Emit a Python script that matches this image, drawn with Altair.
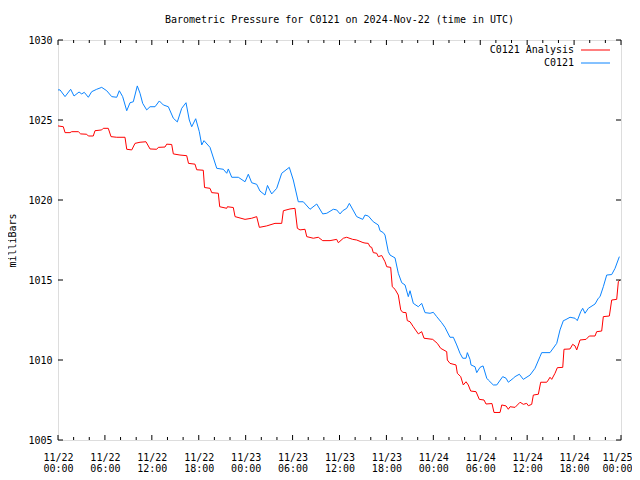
import altair as alt
import pandas as pd

TITLE = "Barometric Pressure for C0121 on 2024-Nov-22 (time in UTC)"
Y_TITLE = "milliBars"
SERIES = ["C0121 Analysis", "C0121"]
COLORS = ["#ff0000", "#0a84ff"]
FONT = "DejaVu Sans Mono"

# hours since 2024-11-22 00:00 UTC, pressure in mb
obs_hours = [0.0, 0.26, 0.90, 1.62, 2.05, 2.69, 3.03, 3.36, 3.88, 4.31,
             4.95, 5.59, 6.23, 6.87, 7.51, 7.84, 8.27, 8.79, 9.21, 9.63,
             10.14, 10.49, 10.83, 11.34, 11.77, 12.41, 12.96, 13.47, 14.11, 14.75,
             15.26, 15.82, 16.37, 16.79, 17.10, 17.61, 18.07, 18.38, 18.67, 19.44,
             20.30, 21.14, 21.58, 21.78, 22.22, 23.06, 23.92, 24.34, 24.77, 25.41,
             25.83, 26.47, 26.79, 27.11, 27.33, 27.97, 28.61, 29.58, 30.09, 30.73,
             31.37, 32.23, 33.09, 33.85, 34.37, 35.21, 35.64, 36.07, 36.41, 36.92,
             37.26, 38.20, 38.97, 39.26, 39.69, 40.32, 40.96, 41.18, 41.60, 41.82,
             42.24, 42.46, 43.10, 43.52, 43.96, 44.38, 44.80, 45.02, 45.44, 46.08,
             46.51, 46.94, 47.58, 48.00, 48.43, 49.07, 49.49, 50.13, 50.56, 50.99,
             51.41, 51.76, 52.18, 52.35, 52.69, 52.82, 53.33, 53.55, 53.97, 54.36,
             54.83, 55.03, 55.67, 56.11, 56.87, 57.30, 57.59, 58.23, 58.45, 59.00,
             59.51, 60.37, 61.00, 61.64, 61.86, 62.92, 63.78, 64.20, 64.63, 64.84,
             65.48, 66.12, 66.41, 66.85, 67.10, 67.40, 67.82, 68.68, 69.10, 69.32,
             69.74, 70.17, 70.81, 71.24, 71.79]
obs_mb = [1026.88, 1026.88, 1026.46, 1026.92, 1026.50, 1026.75, 1026.63, 1026.73, 1026.42, 1026.77,
          1026.92, 1027.04, 1026.83, 1026.46, 1026.42, 1026.83, 1026.46, 1025.58, 1026.08, 1026.14,
          1027.13, 1026.67, 1026.04, 1025.63, 1025.83, 1025.83, 1026.19, 1025.94, 1025.83, 1025.11,
          1024.88, 1025.73, 1026.08, 1025.00, 1024.58, 1025.08, 1024.27, 1023.44, 1023.71, 1023.29,
          1021.98, 1021.92, 1021.67, 1021.94, 1021.42, 1021.42, 1021.14, 1021.61, 1021.08, 1020.98,
          1020.56, 1020.31, 1020.91, 1020.58, 1020.38, 1020.73, 1021.67, 1022.04, 1021.25, 1019.89,
          1019.89, 1019.42, 1019.75, 1019.13, 1019.17, 1019.42, 1019.38, 1019.13, 1019.33, 1019.48,
          1019.79, 1018.96, 1018.79, 1019.06, 1019.00, 1018.64, 1018.44, 1018.08, 1017.96, 1017.81,
          1016.77, 1016.56, 1016.38, 1015.42, 1014.83, 1014.69, 1013.96, 1014.33, 1013.54, 1013.33,
          1013.54, 1012.96, 1012.92, 1012.98, 1012.71, 1012.33, 1012.04, 1011.42, 1011.42, 1010.94,
          1010.42, 1010.11, 1010.11, 1010.46, 1010.04, 1009.69, 1009.58, 1009.21, 1009.54, 1009.63,
          1008.86, 1008.75, 1008.44, 1008.44, 1008.96, 1008.86, 1008.61, 1008.86, 1008.96, 1009.11,
          1008.79, 1009.06, 1009.48, 1010.21, 1010.46, 1010.46, 1011.04, 1011.88, 1012.46, 1012.50,
          1012.67, 1012.61, 1012.46, 1013.02, 1013.23, 1012.92, 1013.23, 1013.50, 1013.86, 1013.96,
          1014.58, 1015.31, 1015.34, 1015.73, 1016.46]

ana_hours = [0.00, 0.68, 0.90, 1.53, 1.75, 2.60, 2.90, 3.67, 3.88, 4.51,
             4.73, 5.59, 5.79, 6.43, 6.78, 7.51, 8.57, 8.79, 9.43, 9.85,
             10.49, 11.25, 11.77, 12.62, 12.83, 13.68, 13.90, 14.54, 14.75, 15.60,
             16.46, 16.69, 17.52, 17.74, 18.58, 18.74, 19.44, 19.66, 20.50, 20.68,
             21.58, 21.66, 22.42, 22.64, 23.92, 24.77, 25.41, 25.75, 26.69, 27.75,
             28.61, 28.82, 29.67, 30.31, 30.61, 30.95, 31.59, 31.81, 32.65, 33.29,
             33.85, 34.79, 35.64, 35.85, 36.49, 36.92, 37.69, 38.20, 39.00, 39.26,
             39.68, 39.90, 40.12, 40.32, 40.76, 40.96, 41.40, 41.82, 42.04, 42.55,
             42.75, 43.10, 43.52, 43.83, 44.08, 44.51, 44.67, 45.02, 45.44, 46.08,
             46.51, 46.81, 47.92, 48.51, 48.94, 49.71, 49.79, 50.13, 50.90, 51.07,
             51.50, 51.83, 52.18, 52.47, 52.78, 53.46, 53.88, 54.48, 54.74, 55.50,
             55.76, 56.53, 56.75, 57.30, 57.59, 57.81, 58.45, 59.09, 59.51, 59.94,
             60.15, 60.58, 60.79, 61.43, 61.73, 62.50, 62.71, 62.92, 63.14, 63.56,
             63.86, 64.55, 64.71, 65.48, 65.82, 66.12, 66.34, 66.76, 67.53, 67.95,
             68.68, 68.89, 69.53, 69.74, 70.51, 70.81, 71.45, 71.66, 71.87]
ana_mb = [1024.63, 1024.58, 1024.21, 1024.21, 1024.27, 1024.27, 1024.13, 1024.11, 1024.00, 1024.00,
          1024.33, 1024.38, 1024.48, 1024.48, 1023.96, 1023.92, 1023.92, 1023.17, 1023.13, 1023.54,
          1023.61, 1023.64, 1023.19, 1023.17, 1023.29, 1023.31, 1023.49, 1023.47, 1022.88, 1022.81,
          1022.77, 1022.29, 1022.24, 1021.89, 1021.86, 1020.78, 1020.73, 1020.46, 1020.42, 1019.58,
          1019.48, 1019.58, 1019.53, 1018.96, 1018.79, 1018.86, 1018.96, 1018.29, 1018.38, 1018.54,
          1018.54, 1019.33, 1019.44, 1019.48, 1018.23, 1018.13, 1018.17, 1017.71, 1017.61, 1017.67,
          1017.46, 1017.46, 1017.54, 1017.33, 1017.61, 1017.67, 1017.54, 1017.50, 1017.34, 1017.31,
          1017.29, 1017.08, 1017.04, 1016.71, 1016.67, 1016.46, 1016.53, 1016.14, 1015.83, 1015.79,
          1014.58, 1014.42, 1014.06, 1013.13, 1012.98, 1012.96, 1012.46, 1012.39, 1012.08, 1011.63,
          1011.77, 1011.36, 1011.29, 1011.04, 1010.73, 1010.52, 1010.00, 1009.79, 1009.69, 1009.17,
          1008.96, 1008.44, 1008.64, 1008.44, 1008.06, 1008.02, 1007.54, 1007.50, 1007.25, 1007.28,
          1006.72, 1006.72, 1007.19, 1007.13, 1006.92, 1007.08, 1007.04, 1007.36, 1007.23, 1007.29,
          1007.14, 1007.23, 1007.81, 1007.86, 1008.61, 1008.61, 1008.75, 1008.92, 1008.79, 1009.17,
          1009.52, 1009.54, 1010.67, 1010.69, 1010.98, 1010.88, 1010.63, 1011.25, 1011.29, 1011.50,
          1011.50, 1011.77, 1011.81, 1012.71, 1012.75, 1013.75, 1013.79, 1014.89, 1015.00]

x_major = list(range(0, 73, 6))
x_minor = [h for h in range(0, 73, 2) if h % 6]
y_major = [1005, 1010, 1015, 1020, 1025, 1030]

W, H = 563, 400
MAJ, MIN = 5, 3

df = pd.concat([
    pd.DataFrame({"h": ana_hours, "p": ana_mb, "series": SERIES[0], "order": 0}),
    pd.DataFrame({"h": obs_hours, "p": obs_mb, "series": SERIES[1], "order": 1}),
])

xscale = alt.Scale(domain=[0, 72], nice=False, zero=False)
yscale = alt.Scale(domain=[1005, 1030], nice=False, zero=False)
cscale = alt.Scale(domain=SERIES, range=COLORS)

label_expr = ("['11/' + (22 + floor(datum.value / 24)), "
              "(datum.value % 24 < 10 ? '0' : '') + (datum.value % 24) + ':00']")

xaxis = alt.Axis(
    values=x_major, labelExpr=label_expr, ticks=False, tickSize=0, domain=False,
    grid=False, labelFont=FONT, labelFontSize=10, labelColor="black",
    labelPadding=12, labelBaseline="top", labelLineHeight=11.5,
    labelOffset={"condition": {"test": "datum.value == 72", "value": -4}, "value": 0},
    labelFlush=False, labelOverlap=False, title=None)
yaxis = alt.Axis(
    values=y_major, format="d", ticks=False, tickSize=0, domain=False, grid=False,
    labelFont=FONT, labelFontSize=10, labelColor="black", labelPadding=6,
    labelFlush=False, labelOverlap=False,
    title=Y_TITLE, titleFont=FONT, titleFontSize=10, titleFontWeight="normal",
    titleColor="black", titleX=-42.5, titleY=H / 2, titleAngle=270,
    titleAlign="center", titleBaseline="alphabetic")

X = alt.X("h:Q", scale=xscale, axis=xaxis)
Y = alt.Y("p:Q", scale=yscale, axis=yaxis)

lines = alt.Chart(df).mark_line(strokeWidth=1, interpolate="linear").encode(
    x=X, y=Y,
    color=alt.Color("series:N", scale=cscale, legend=None),
    detail="order:N",
)

xt_major = pd.DataFrame({"h": x_major})
xt_minor = pd.DataFrame({"h": x_minor})
yt_major = pd.DataFrame({"p": y_major})

def xticks(data, y0, y1):
    return alt.Chart(data).mark_rule(color="black", strokeWidth=1).encode(
        x=X, y=alt.value(y0), y2=alt.value(y1))

def yticks(data, x0, x1):
    return alt.Chart(data).mark_rule(color="black", strokeWidth=1).encode(
        y=Y, x=alt.value(x0), x2=alt.value(x1))

ticks = [
    xticks(xt_major, H, H - MAJ), xticks(xt_minor, H, H - MIN),
    xticks(xt_major, 0, MAJ), xticks(xt_minor, 0, MIN),
    yticks(yt_major, 0, MAJ), yticks(yt_major, W, W - MAJ),
]

# legend (inside, top right): label text right-aligned, then a line sample
legend_layers = []
leg_y = [10, 23]
for name, ly in zip(SERIES, leg_y):
    legend_layers.append(
        alt.Chart(pd.DataFrame({"series": [name]})).mark_text(
            align="right", baseline="middle", font=FONT, fontSize=10, color="black"
        ).encode(x=alt.value(516), y=alt.value(ly), text="series:N"))
    legend_layers.append(
        alt.Chart(pd.DataFrame({"series": [name]})).mark_rule(strokeWidth=1).encode(
            x=alt.value(523), x2=alt.value(552), y=alt.value(ly),
            color=alt.Color("series:N", scale=cscale, legend=None)))

chart = alt.layer(lines, *ticks, *legend_layers).properties(
    width=W, height=H,
    title=alt.TitleParams(TITLE, font=FONT, fontSize=10, fontWeight="normal",
                          color="black", anchor="middle", frame="group",
                          baseline="alphabetic", offset=2),
    padding={"left": 50, "top": 32, "right": 11, "bottom": 32},
    autosize=alt.AutoSizeParams(type="none"),
).configure_view(stroke="black", strokeWidth=1).configure(background="white")

chart.save("out.html", embed_options={"renderer": "svg", "actions": False})
